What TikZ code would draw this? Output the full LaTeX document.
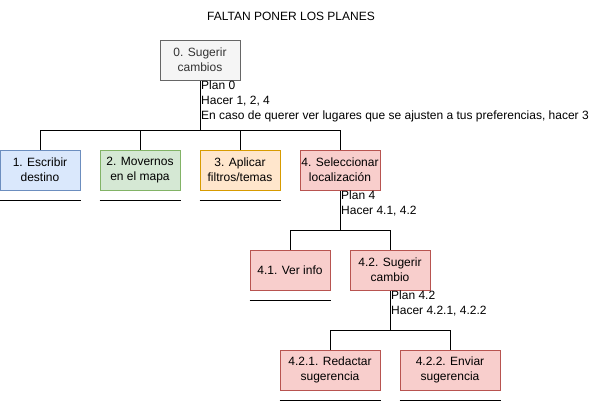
\documentclass[tikz,border=0pt]{standalone}
\usepackage{fontspec}
\setmainfont{Liberation Sans}
\usepackage{tikz}
\usetikzlibrary{
  positioning,
  calc
}
\definecolor{tkGreyFill}{HTML}{F5F5F5}
\definecolor{tkGreyLine}{HTML}{666666}
\definecolor{tkGreyText}{HTML}{333333}
\definecolor{tkBlueFill}{HTML}{DAE8FC}
\definecolor{tkBlueLine}{HTML}{6C8EBF}
\definecolor{tkGreenFill}{HTML}{D5E8D4}
\definecolor{tkGreenLine}{HTML}{82B366}
\definecolor{tkOrangeFill}{HTML}{FFE6CC}
\definecolor{tkOrangeLine}{HTML}{D79B00}
\definecolor{tkRedFill}{HTML}{F8CECC}
\definecolor{tkRedLine}{HTML}{B85450}
\tikzset{
  tknode/.style={
    draw, line width=1pt, minimum width=80pt, minimum height=40pt,
    inner sep=1pt, align=center, font=\fontsize{12}{15}\selectfont
  },
  rootbox/.style={tknode, fill=tkGreyFill, draw=tkGreyLine, text=tkGreyText},
  bluebox/.style={tknode, fill=tkBlueFill, draw=tkBlueLine},
  greenbox/.style={tknode, fill=tkGreenFill, draw=tkGreenLine},
  orangebox/.style={tknode, fill=tkOrangeFill, draw=tkOrangeLine},
  redbox/.style={tknode, fill=tkRedFill, draw=tkRedLine},
  widebox/.style={minimum width=100pt},
  plantext/.style={anchor=north west, align=left, inner sep=1pt,
    font=\fontsize{12}{15}\selectfont},
  tree/.style={line width=1pt, black},
  stopline/.style={line width=1pt, black}
}

\begin{document}
\begin{tikzpicture}[x=1pt, y=-1pt]
  \useasboundingbox (0,0) rectangle (611,402);
  \node[font=\fontsize{12}{15}\selectfont, inner sep=0pt] (title) at (291,16) {FALTAN PONER LOS PLANES};

  % level 0
  \node[rootbox] (t0) at (200,60) {0. Sugerir\\cambios};
  \node[plantext] (p0) at (200,80)
    {Plan 0\\Hacer 1, 2, 4\\En caso de querer ver lugares que se ajusten a tus preferencias, hacer 3};

  % level 1
  \node[bluebox] (t1) at (40,170) {1. Escribir\\destino};
  \node[greenbox] (t2) at (140,170) {2. Movernos\\en el mapa};
  \node[orangebox] (t3) at (240,170) {3. Aplicar\\filtros/temas};
  \node[redbox] (t4) at (340,170) {4. Seleccionar\\localización};
  \node[plantext] (p4) at (340,190) {Plan 4\\Hacer 4.1, 4.2};

  % level 2
  \node[redbox] (t41) at (290,270) {4.1. Ver info};
  \node[redbox] (t42) at (390,270) {4.2. Sugerir\\cambio};
  \node[plantext] (p42) at (390,290) {Plan 4.2\\Hacer 4.2.1, 4.2.2};

  % level 3
  \node[redbox, widebox] (t421) at (330,370) {4.2.1. Redactar\\sugerencia};
  \node[redbox, widebox] (t422) at (450,370) {4.2.2. Enviar\\sugerencia};

  % tree connectors
  \coordinate (b0) at (200,130);
  \coordinate (b4) at (340,230);
  \coordinate (b42) at (390,330);
  \draw[tree] (t0.south) -- (b0);
  \foreach \n in {t1,t2,t3,t4}
    \draw[tree] (b0) -| (\n.north);
  \draw[tree] (t4.south) -- (b4);
  \foreach \n in {t41,t42}
    \draw[tree] (b4) -| (\n.north);
  \draw[tree] (t42.south) -- (b42);
  \foreach \n in {t421,t422}
    \draw[tree] (b42) -| (\n.north);

  % stop lines
  \foreach \n in {t1,t2,t3,t41,t421,t422}
    \draw[stopline] ($(\n.south west)+(0,10)$) -- ($(\n.south east)+(0,10)$);
\end{tikzpicture}
\end{document}
